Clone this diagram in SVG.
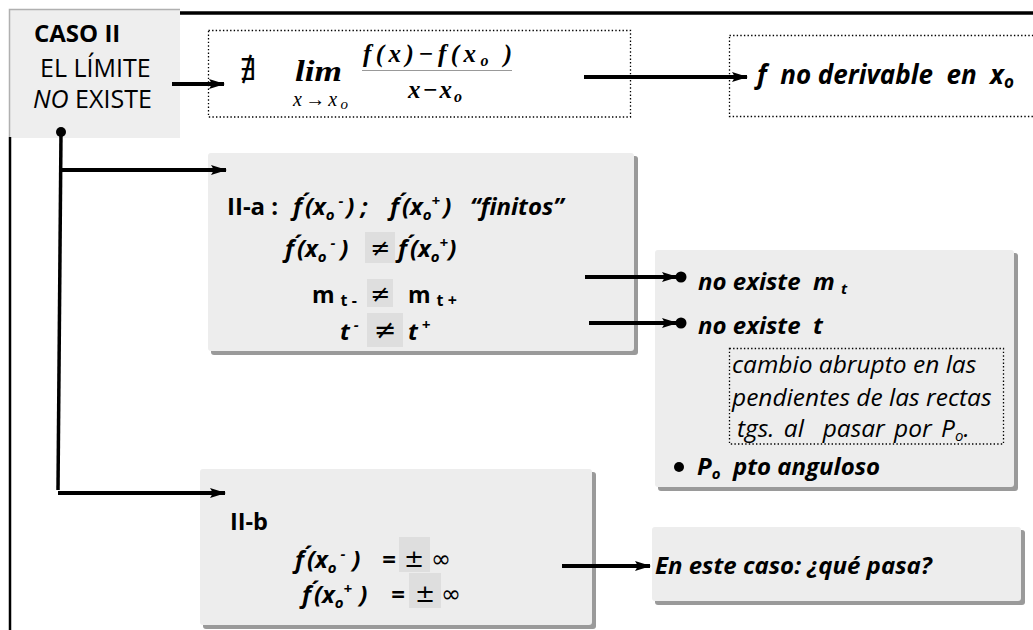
<svg xmlns="http://www.w3.org/2000/svg" width="1033" height="630" viewBox="0 0 1033 630">
<style>
.box{fill:#ededed}
.sh{fill:#9a9a9a}
.dotb{fill:none;stroke:#000;stroke-width:1.3;stroke-dasharray:1.4 2.2}
.ln{fill:none;stroke:#000;stroke-width:3.5}
.arr{fill:none;stroke:#000;stroke-width:4;marker-end:url(#ah)}
.t{font-family:"Open Sans","Liberation Sans",sans-serif;fill:#000}
.b{font-weight:bold}
.bi{font-weight:bold;font-style:italic}
.i{font-style:italic}
.m{font-family:"Liberation Serif","DejaVu Serif",serif;fill:#000}
.sym{font-family:"DejaVu Sans",sans-serif;fill:#000}
.hl{fill:#dedede}
</style>
<defs>
<marker id="ah" viewBox="0 0 16 10" refX="15" refY="5" markerWidth="16" markerHeight="10" markerUnits="userSpaceOnUse" orient="auto">
<path d="M0,0 L16,5 L0,10 L3,5 z" fill="#000"/>
</marker>
</defs>

<g id="caso">
<rect x="9" y="9" width="171" height="129" fill="#eeeeee"/>
<path d="M9.5,137 V9.5 H180" stroke="#b0b0b0" stroke-width="1.5" fill="none"/>
<text class="t b" x="34" y="42" font-size="24">CASO II</text>
<text class="t" x="40" y="77" font-size="25">EL LÍMITE</text>
<text class="t" x="33" y="108" font-size="25"><tspan font-style="italic">NO</tspan> EXISTE</text>
</g>

<g id="limite">
<rect class="dotb" x="208.5" y="30.5" width="422" height="86.5"/>
<text class="m" x="240" y="80" font-size="30">∄</text>
<text class="m" x="295" y="81" font-size="29" font-weight="bold" font-style="italic" textLength="47" lengthAdjust="spacingAndGlyphs">lim</text>
<text class="m" x="293" y="106" font-size="20" font-style="italic" textLength="55" lengthAdjust="spacing">x→x<tspan font-size="15" dy="3">o</tspan></text>
<text class="m" x="363" y="62" font-size="25" font-weight="bold" font-style="italic" textLength="149" lengthAdjust="spacing">f(x)−f(x<tspan font-size="16" dy="4">o</tspan><tspan dy="-4"> )</tspan></text>
<path d="M362,70.5 H512" stroke="#999" stroke-width="1.2"/>
<text class="m" x="408" y="98" font-size="25" font-weight="bold" font-style="italic" textLength="54" lengthAdjust="spacing">x−x<tspan font-size="16" dy="4">o</tspan></text>
</g>

<g id="noderivable">
<rect class="dotb" x="729.5" y="35.5" width="320" height="81"/>
<text class="t bi" x="757" y="84" font-size="26" xml:space="preserve">f  no derivable  en  x<tspan font-size="17" dy="4">o</tspan></text>
</g>

<g id="IIa">
<rect class="sh" x="211" y="156" width="427" height="199" rx="3"/>
<rect class="box" x="208" y="153" width="426" height="198" rx="3"/>
<text class="t b" x="227" y="215" font-size="24">II-a :</text>
<text class="t bi" x="293" y="215" font-size="24" xml:space="preserve">f<tspan dx="3">´(x</tspan><tspan font-size="15" dy="5">o</tspan><tspan font-size="15" dy="-14"> -</tspan><tspan dy="9" dx="3">) ;</tspan></text>
<text class="t bi" x="390" y="215" font-size="24" xml:space="preserve">f<tspan dx="3">´(x</tspan><tspan font-size="15" dy="5">o</tspan><tspan font-size="15" dy="-14">+</tspan><tspan dy="9" dx="3">)</tspan></text>
<text class="t bi" x="470" y="215" font-size="24">“finitos”</text>
<rect class="hl" x="365" y="232" width="30" height="31"/>
<text class="t bi" x="285" y="257" font-size="24" xml:space="preserve">f<tspan dx="3">´(x</tspan><tspan font-size="15" dy="5">o</tspan><tspan font-size="15" dy="-14"> -</tspan><tspan dy="9" dx="5">)</tspan></text>
<text class="sym" x="380" y="256" font-size="24" text-anchor="middle">≠</text>
<text class="t bi" x="398" y="257" font-size="24" xml:space="preserve">f<tspan dx="3">´(x</tspan><tspan font-size="15" dy="5">o</tspan><tspan font-size="15" dy="-14">+</tspan><tspan dy="9">)</tspan></text>
<rect class="hl" x="367" y="279" width="26" height="28"/>
<text class="t b" x="312" y="303" font-size="23" xml:space="preserve">m <tspan font-size="16" dy="3">t -</tspan></text>
<text class="sym" x="380" y="302" font-size="24" text-anchor="middle">≠</text>
<text class="t b" x="408" y="303" font-size="23" xml:space="preserve">m <tspan font-size="16" dy="3">t +</tspan></text>
<rect class="hl" x="367" y="313" width="36" height="34"/>
<text class="t bi" x="340" y="340" font-size="24" xml:space="preserve">t<tspan font-size="15" dy="-10"> -</tspan></text>
<text class="sym" x="385" y="339" font-size="27" text-anchor="middle">≠</text>
<text class="t bi" x="408" y="340" font-size="24" xml:space="preserve">t<tspan font-size="15" dy="-10"> +</tspan></text>
</g>

<g id="noexiste">
<rect class="sh" x="658" y="253" width="360" height="238" rx="3"/>
<rect class="box" x="655" y="250" width="359" height="237" rx="3"/>
<text class="t bi" x="698" y="290" font-size="24" xml:space="preserve">no existe  m <tspan font-size="15" dy="4">t</tspan></text>
<text class="t bi" x="698" y="334" font-size="24" xml:space="preserve">no existe  t</text>
<rect class="dotb" x="729.5" y="348.5" width="274" height="95.5"/>
<text class="t i" x="732" y="373" font-size="24.5">cambio abrupto en las</text>
<text class="t i" x="732" y="406" font-size="24.5">pendientes de las rectas</text>
<text class="t i" x="737" y="437" font-size="24.5" xml:space="preserve" word-spacing="3">tgs. al  pasar por P<tspan font-size="15" dy="4">o</tspan><tspan dy="-4">.</tspan></text>
<circle cx="679" cy="467" r="5" fill="#000"/>
<text class="t bi" x="697" y="475" font-size="24" xml:space="preserve">P<tspan font-size="15" dy="4">o</tspan><tspan dy="-4">  pto anguloso</tspan></text>
</g>

<g id="IIb">
<rect class="sh" x="203" y="472" width="393" height="157" rx="3"/>
<rect class="box" x="200" y="469" width="392" height="156" rx="3"/>
<text class="t b" x="230" y="530" font-size="23.5">II-b</text>
<rect class="hl" x="399" y="537" width="31" height="35"/>
<text class="t bi" x="295" y="568" font-size="24" xml:space="preserve">f<tspan dx="3">´(x</tspan><tspan font-size="15" dy="5">o</tspan><tspan font-size="15" dy="-14"> -</tspan><tspan dy="9" dx="7">)</tspan></text>
<text class="t bi" x="382" y="568" font-size="24">=</text>
<text class="sym" x="414" y="567" font-size="24" text-anchor="middle">±</text>
<text class="sym" x="431" y="567" font-size="24">∞</text>
<rect class="hl" x="409" y="573" width="32" height="35"/>
<text class="t bi" x="302" y="603" font-size="24" xml:space="preserve">f<tspan dx="3">´(x</tspan><tspan font-size="15" dy="5">o</tspan><tspan font-size="15" dy="-14">+</tspan><tspan dy="9" dx="7">)</tspan></text>
<text class="t bi" x="391" y="603" font-size="24">=</text>
<text class="sym" x="425" y="602" font-size="24" text-anchor="middle">±</text>
<text class="sym" x="441" y="602" font-size="24">∞</text>
</g>

<g id="enestecaso">
<rect class="sh" x="655" y="530" width="370" height="75" rx="3"/>
<rect class="box" x="652" y="527" width="369" height="74" rx="3"/>
<text class="t bi" x="655" y="574" font-size="24">En este caso: ¿qué pasa?</text>
</g>

<g id="connectors">
<path d="M180,13 H1033" stroke="#000" stroke-width="3.5" fill="none"/>
<path d="M10,137 V630" stroke="#000" stroke-width="2.5" fill="none"/>
<path class="arr" d="M172,84 H224"/>
<path class="arr" d="M584,77 H747"/>
<circle cx="61" cy="132" r="5" fill="#000"/>
<path class="ln" d="M61,132 L58,490"/>
<path class="arr" d="M61,170 H226" stroke-width="3.5"/>
<path class="arr" d="M58,493 H225" stroke-width="3.5"/>
<path class="arr" d="M585,277 H677"/>
<circle cx="681" cy="277" r="5.5" fill="#000"/>
<path class="arr" d="M589,323 H677"/>
<circle cx="681" cy="323" r="5.5" fill="#000"/>
<path class="arr" d="M562,566 H650" stroke-width="3.5"/>
</g>
</svg>
